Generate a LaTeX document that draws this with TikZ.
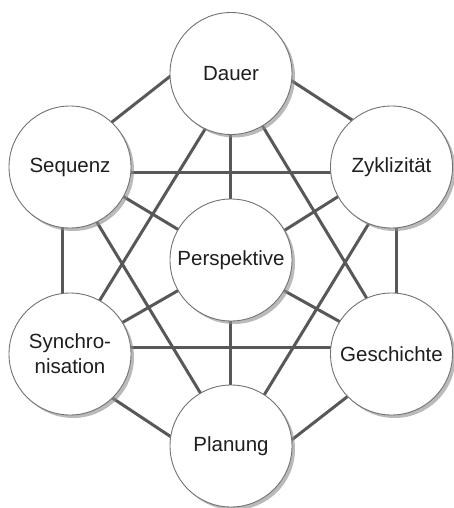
\documentclass[tikz,border=0pt]{standalone}
\usepackage{fontspec}
\setmainfont{Liberation Sans}
\usetikzlibrary{backgrounds,shadows}
\definecolor{edgecol}{RGB}{88,88,88}
\definecolor{rimcol}{RGB}{115,115,115}
\definecolor{txtcol}{RGB}{30,30,30}
\begin{document}
\begin{tikzpicture}[x=1pt,y=-1pt,
  bubble/.style={circle, draw=rimcol, line width=0.9pt, fill=white,
    minimum size=122pt, inner sep=0pt, text=txtcol, align=center,
    font=\fontsize{20.5}{25}\selectfont,
    drop shadow={shadow xshift=3pt, shadow yshift=-3pt, fill=black!45, opacity=0.6}},
  link/.style={draw=edgecol, line width=3pt, shorten <=-3pt, shorten >=-3pt}]
\useasboundingbox (0,0) rectangle (454,508);
\node[bubble] (D)  at (231,73.5) {Dauer};
\node[bubble] (Se) at (70,167)   {Sequenz};
\node[bubble] (Z)  at (391.5,167) {Zyklizität};
\node[bubble] (Pe) at (231,260)  {Perspektive};
\node[bubble] (Sy) at (70,354)   {Synchro-\\nisation};
\node[bubble] (G)  at (391.5,354) {Geschichte};
\node[bubble] (Pl) at (231,446)  {Planung};
\begin{pgfonlayer}{background}
\draw[link] (Se.47) -- (D.183);
\draw[link] (D.353) -- (Z.130);
\draw[link] ([yshift=-5pt]Se.center) -- ([yshift=-5pt]Z.center);
\draw[link] ([xshift=-1pt]D.center) -- ([xshift=-1pt]Pe.center);
\draw[link] (D.245) -- (Sy.61);
\draw[link] (D.301) -- (G.114);
\draw[link] (Se.331) -- (Pe.150);
\draw[link] (Z.209) -- (Pe.29);
\draw[link] (Se.296) -- (Pl.120);
\draw[link] (Z.248) -- (Pl.57);
\draw[link] ([xshift=-8pt]Se.center) -- ([xshift=-8pt]Sy.center);
\draw[link] ([xshift=4.5pt]Z.center) -- ([xshift=4.5pt]G.center);
\draw[link] (Sy.31) -- (Pe.210);
\draw[link] (G.148) -- (Pe.330);
\draw[link] ([yshift=7pt]Sy.center) -- ([yshift=7pt]G.center);
\draw[link] ([xshift=-1pt]Pe.center) -- ([xshift=-1pt]Pl.center);
\draw[link] (Sy.314) -- (Pl.171);
\draw[link] (G.224) -- (Pl.6);
\end{pgfonlayer}
\end{tikzpicture}
\end{document}
